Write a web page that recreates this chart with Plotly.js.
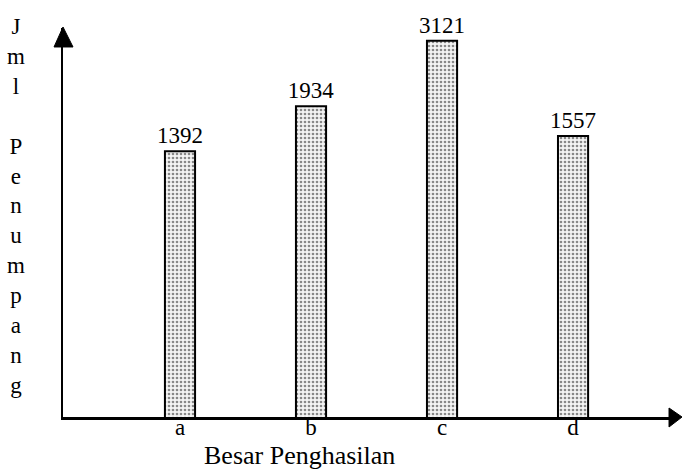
<!DOCTYPE html>
<html>
<head>
<meta charset="utf-8">
<script src="https://cdn.plot.ly/plotly-3.0.1.min.js"></script>
<style>html,body{margin:0;padding:0;background:#fff;}#chart{width:682px;height:470px;}</style>
</head>
<body>
<div id="chart"></div>
<script>
// Data
const categories = ['a', 'b', 'c', 'd'];
const values = [1392, 1934, 3121, 1557];
const valueLabels = ['1392', '1934', '3121', '1557'];
const yTitleLetters = ['J', 'm', 'l', '', 'P', 'e', 'n', 'u', 'm', 'p', 'a', 'n', 'g'];
const xTitle = 'Besar Penghasilan';

const serif = 'Liberation Serif, Times New Roman, serif';

const trace = {
  type: 'bar',
  x: categories,
  y: values,
  width: 0.23,
  text: valueLabels,
  textposition: 'outside',
  constraintext: 'none',
  cliponaxis: false,
  textfont: {family: serif, size: 23, color: '#000'},
  marker: {
    color: '#e6e6e6',
    line: {color: '#000', width: 2},
    pattern: {shape: '.', fgcolor: '#888', bgcolor: '#f4f4f4', size: 4, solidity: 0.35}
  },
  hoverinfo: 'skip'
};

const layout = {
  width: 682, height: 470,
  margin: {l: 63, r: 12, t: 28, b: 53, pad: 0},
  paper_bgcolor: '#fff', plot_bgcolor: '#fff',
  showlegend: false,
  font: {family: serif, color: '#000'},
  xaxis: {
    type: 'category', range: [-0.893, 3.74],
    showline: true, linecolor: '#000', linewidth: 2.5,
    ticks: '', showgrid: false, zeroline: false,
    ticklabelstandoff: -12,
    tickfont: {family: serif, size: 23, color: '#000'}
  },
  yaxis: {
    type: 'log', range: [2.3017, 3.5343],
    showline: true, linecolor: '#000', linewidth: 2.5,
    ticks: '', showticklabels: false, showgrid: false, zeroline: false
  },
  shapes: [
    {type: 'path', xref: 'paper', yref: 'paper',
     path: 'M 0,1.0026 L -0.0148,0.9512 L 0.0165,0.9512 Z',
     fillcolor: '#000', line: {color: '#000', width: 1}},
    {type: 'path', xref: 'paper', yref: 'paper',
     path: 'M 1.0198,0 L 0.9984,0.0231 L 0.9984,-0.0257 Z',
     fillcolor: '#000', line: {color: '#000', width: 1}}
  ],
  annotations: [
    {text: yTitleLetters.join('<br>'), xref: 'paper', yref: 'paper',
     x: -0.077, y: 1.04, xanchor: 'center', yanchor: 'top', showarrow: false,
     font: {family: serif, size: 23, color: '#000'}},
    {text: xTitle, xref: 'paper', yref: 'paper',
     x: 0.39, y: -0.1, xanchor: 'center', yanchor: 'middle', showarrow: false,
     font: {family: serif, size: 26, color: '#000'}}
  ]
};

Plotly.newPlot('chart', [trace], layout, {displayModeBar: false, staticPlot: true});
</script>
</body>
</html>
